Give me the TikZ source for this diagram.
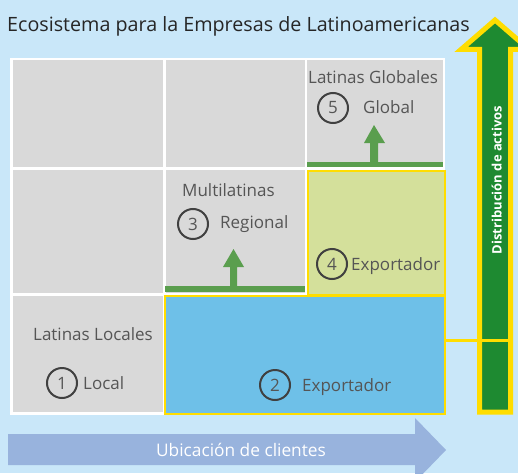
\documentclass[tikz,border=0pt]{standalone}
\usepackage{fontspec}
\setmainfont{Open Sans}
\definecolor{bg}{HTML}{C9E7F9}
\definecolor{cellgray}{HTML}{D9D9D9}
\definecolor{txtgray}{HTML}{555555}
\definecolor{ringgray}{HTML}{404040}
\definecolor{midgreen}{HTML}{5A9E4E}
\definecolor{darkgreen}{HTML}{1E8A31}
\definecolor{ylw}{HTML}{FFDD00}
\definecolor{lime}{HTML}{D4E09B}
\definecolor{skyblue}{HTML}{6EC0E8}
\definecolor{arrowblue}{HTML}{98B3DD}
\tikzset{
  cell/.style={rectangle, fill=cellgray, inner sep=0pt, anchor=north west},
  hicell/.style={rectangle, draw=ylw, line width=2pt, inner sep=0pt, anchor=north west},
  lbl/.style={text=txtgray, inner sep=0pt, font=\fontsize{17}{20}\selectfont},
  ring/.style={circle, draw=ringgray, line width=2pt, minimum size=30pt, inner sep=0pt, text=txtgray, font=\fontsize{17}{20}\selectfont},
  bar/.style={fill=midgreen},
}
\begin{document}
\begin{tikzpicture}[x=1pt,y=-1pt]
\useasboundingbox (0,0) rectangle (518,473);
\clip (0,0) rectangle (518,473);
\fill[bg] (0,0) rectangle (518,473);

% title
\node[anchor=base west, inner sep=0pt, text=black!85, font=\fontsize{19.7}{23}\selectfont] (title) at (7,31.7) {Ecosistema para la Empresas de Latinoamericanas};

% white frame
\node[rectangle, fill=white, inner sep=0pt, minimum width=435, minimum height=357, anchor=north west] (frame) at (10,58) {};

% grid cells
\node[cell, minimum width=150, minimum height=107] (c11) at (13,60) {};
\node[cell, minimum width=139, minimum height=107] (c12) at (166,60) {};
\node[cell, minimum width=136, minimum height=107] (c13) at (307,60) {};
\node[cell, minimum width=150, minimum height=123] (c21) at (13,170) {};
\node[cell, minimum width=139, minimum height=123] (c22) at (166,170) {};
\node[cell, minimum width=150, minimum height=116] (c31) at (13,296) {};

% highlighted cells
\node[hicell, fill=lime, minimum width=137.5, minimum height=124] (c23) at (306.5,170) {};
\node[hicell, fill=skyblue, minimum width=280, minimum height=118] (c32) at (164,295) {};

% green bars and arrows
\fill[bar] (307,161.7) rectangle (443,166.7);
\fill[bar] (165,286) rectangle (305,292);
\fill[midgreen] (370,162) -- (370,143) -- (364,143) -- (374,125) -- (385,143) -- (378,143) -- (378,162) -- cycle;
\fill[midgreen] (230,287) -- (230,267) -- (223,267) -- (233.5,249) -- (244,267) -- (237,267) -- (237,287) -- cycle;

% labels
\node[lbl, anchor=base west] (t5) at (308,84) {Latinas Globales};
\node[ring] (n5) at (333,108) {5};
\node[lbl, anchor=base west] (g5) at (363,113.3) {Global};

\node[lbl, anchor=base west] (t3) at (182,196) {Multilatinas};
\node[ring] (n3) at (193,224) {3};
\node[lbl, anchor=base west] (g3) at (220,228) {Regional};

\node[ring] (n4) at (332,264) {4};
\node[lbl, anchor=base west] (g4) at (351,270.7) {Exportador};

\node[lbl, anchor=base west] (t1) at (33,340.7) {Latinas Locales};
\node[ring] (n1) at (62,383) {1};
\node[lbl, anchor=base west] (g1) at (83,389) {Local};

\node[ring] (n2) at (275,385) {2};
\node[lbl, anchor=base west] (g2) at (302,391.7) {Exportador};

% vertical arrow
\filldraw[fill=darkgreen, draw=ylw, line width=5pt, line join=miter]
  (479.5,412) -- (479.5,49.5) -- (461,49.5) -- (495,20) -- (529,49.5) -- (510.5,49.5) -- (510.5,412) -- cycle;
\coordinate (yend) at (510.5,340.5);
\draw[ylw, line width=3.5pt] (c32.east |- yend) -- (yend);
\node[rotate=90, anchor=base, inner sep=0pt, text=white, font=\bfseries\fontsize{13}{15}\selectfont] (dist) at (501.7,180) {Distribución de activos};

% horizontal arrow
\fill[arrowblue] (8,434) -- (415,434) -- (415,418) -- (446,450) -- (415,482) -- (415,465) -- (8,465) -- cycle;
\node[anchor=base, inner sep=0pt, text=white, font=\fontsize{17.3}{20}\selectfont] (ubic) at (241,456.7) {Ubicación de clientes};
\end{tikzpicture}
\end{document}
